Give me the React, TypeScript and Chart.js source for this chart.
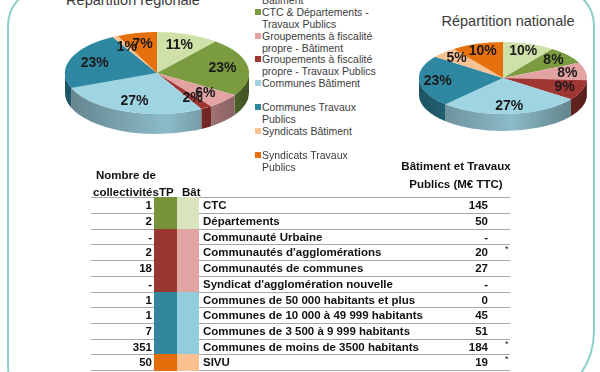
import React, { useEffect, useRef } from "react";
import { Chart, registerables } from "chart.js";

Chart.register(...registerables);

// ---------- data ----------
const sliceLabels = [
  "CTC & Départements - Bâtiment",
  "CTC & Départements - Travaux Publics",
  "Groupements à fiscalité propre - Bâtiment",
  "Groupements à fiscalité propre - Travaux Publics",
  "Communes Bâtiment",
  "Communes Travaux Publics",
  "Syndicats Bâtiment",
  "Syndicats Travaux Publics",
];
const regionalShares = [11, 23, 6, 2, 27, 23, 1, 7];
const nationalShares = [10, 8, 8, 9, 27, 23, 5, 10];
const sliceColors = ["#cfe1a8", "#7a9b3f", "#e3a3a2", "#a03633", "#9fd4e3", "#2f88a1", "#f9c293", "#e6700d"];

const rowNames = [
  "CTC",
  "Départements",
  "Communauté Urbaine",
  "Communautés d'agglomérations",
  "Communautés de communes",
  "Syndicat d'agglomération nouvelle",
  "Communes de 50 000 habitants et plus",
  "Communes de 10 000 à 49 999 habitants",
  "Communes de 3 500 à 9 999 habitants",
  "Communes de moins de 3500 habitants",
  "SIVU",
];
const rowCounts = ["1", "2", "-", "2", "18", "-", "1", "1", "7", "351", "50"];
const rowAmounts = ["145", "50", "-", "20", "27", "-", "0", "45", "51", "184", "19"];
const rowFlags = ["", "", "", "*", "", "", "", "", "", "*", "*"];
const rowGroups = [0, 0, 1, 1, 1, 1, 2, 2, 2, 2, 3];
const groupTPColors = ["#77933c", "#9b3733", "#31869d", "#e46c0a"];
const groupBatColors = ["#d7e4bd", "#e2a4a3", "#93cddd", "#fac08f"];

const FONT = "'Liberation Sans', Arial, sans-serif";

function shade(hex: string, f: number) {
  const n = parseInt(hex.slice(1), 16);
  const r = Math.round(((n >> 16) & 255) * f);
  const g = Math.round(((n >> 8) & 255) * f);
  const b = Math.round((n & 255) * f);
  return `rgb(${r},${g},${b})`;
}

function pie3d(ry: number, depth: number, labelFactor: number) {
  return {
    id: "pie3d",
    beforeDatasetsDraw(chart: any) {
      const arcs = chart.getDatasetMeta(0).data;
      if (!arcs.length) return;
      const cx = arcs[0].x, cy = arcs[0].y, rx = arcs[0].outerRadius;
      const ctx = chart.ctx as CanvasRenderingContext2D;
      arcs.forEach((arc: any, i: number) => {
        const a1 = Math.max(arc.startAngle, 0);
        const a2 = Math.min(arc.endAngle, Math.PI);
        if (a2 <= a1) return;
        const color = sliceColors[i];
        const grad = ctx.createLinearGradient(cx - rx, 0, cx + rx, 0);
        grad.addColorStop(0, shade(color, 0.62));
        grad.addColorStop(0.55, shade(color, 0.88));
        grad.addColorStop(1, shade(color, 0.55));
        ctx.beginPath();
        ctx.ellipse(cx, cy, rx, ry, 0, a1, a2);
        ctx.lineTo(cx + rx * Math.cos(a2), cy + ry * Math.sin(a2) + depth);
        ctx.ellipse(cx, cy + depth, rx, ry, 0, a2, a1, true);
        ctx.closePath();
        ctx.fillStyle = grad;
        ctx.fill();
      });
      ctx.save();
      ctx.translate(cx, cy);
      ctx.scale(1, ry / rx);
      ctx.translate(-cx, -cy);
    },
    afterDatasetsDraw(chart: any) {
      const ctx = chart.ctx as CanvasRenderingContext2D;
      ctx.restore();
      const arcs = chart.getDatasetMeta(0).data;
      const values = chart.data.datasets[0].data;
      ctx.save();
      ctx.font = `bold 14px ${FONT}`;
      ctx.fillStyle = "#1a1a1a";
      ctx.textAlign = "center";
      ctx.textBaseline = "middle";
      arcs.forEach((arc: any, i: number) => {
        const mid = (arc.startAngle + arc.endAngle) / 2;
        const x = arc.x + arc.outerRadius * labelFactor * Math.cos(mid);
        const y = arc.y + ry * labelFactor * Math.sin(mid);
        ctx.fillText(`${values[i]}%`, x, y);
      });
      ctx.restore();
    },
  };
}

function Pie3D(props: { shares: number[]; rx: number; ry: number; depth: number; f: number; cx: number; cy: number }) {
  const { shares, rx, ry, depth, f, cx, cy } = props;
  const ref = useRef<HTMLCanvasElement>(null);
  const size = 2 * rx + 2;
  useEffect(() => {
    const chart = new Chart(ref.current!, {
      type: "pie",
      data: {
        labels: sliceLabels,
        datasets: [{ data: shares, backgroundColor: sliceColors, borderWidth: 0, clip: false } as any],
      },
      options: {
        responsive: false,
        animation: false,
        events: [],
        layout: { padding: 1 },
        plugins: { legend: { display: false }, tooltip: { enabled: false } },
      },
      plugins: [pie3d(ry, depth, f) as any],
    });
    return () => chart.destroy();
  }, []);
  return (
    <canvas
      ref={ref}
      width={size}
      height={size}
      style={{ position: "absolute", left: cx - rx - 1, top: cy - rx - 1, width: size, height: size }}
    />
  );
}

export default function App() {
  const rowTop = (i: number) => Math.round(197.3 + 15.7 * i);
  const bold = { fontFamily: FONT, fontWeight: 700, fontSize: 11.5, color: "#111" } as const;
  return (
    <div style={{ position: "absolute", left: 0, top: 0, width: 600, height: 372, overflow: "hidden", background: "#fff" }}>
      {/* frame */}
      <div
        style={{
          position: "absolute",
          left: 7,
          top: -14,
          width: 588,
          height: 420,
          border: "2px solid #8ccfca",
          borderRadius: "40px 40px 75px 40px",
          boxSizing: "border-box",
        }}
      />
      {/* titles */}
      <div style={{ position: "absolute", left: 33, width: 200, top: -8, textAlign: "center", fontFamily: FONT, fontSize: 14.5, lineHeight: "17px", color: "#3a3a3a" }}>
        Répartition régionale
      </div>
      <div style={{ position: "absolute", left: 408, width: 200, top: 13, textAlign: "center", fontFamily: FONT, fontSize: 14.5, lineHeight: "17px", color: "#3a3a3a" }}>
        Répartition nationale
      </div>

      <Pie3D shares={regionalShares} rx={92} ry={41} depth={20} f={0.72} cx={157} cy={73} />
      <Pie3D shares={nationalShares} rx={84} ry={36} depth={17} f={0.78} cx={503} cy={78} />

      {/* legend */}
      {sliceLabels.map((lab, i) => (
        <div key={lab} style={{ position: "absolute", left: 255, top: -18 + 23.8 * i, width: 125, height: 24 }}>
          <div style={{ position: "absolute", left: 0, top: 3, width: 6, height: 6, background: sliceColors[i] }} />
          <div style={{ position: "absolute", left: 7, top: 0, width: 118, fontFamily: FONT, fontSize: 10.5, lineHeight: "12px", color: "#3c3c3c" }}>
            {lab}
          </div>
        </div>
      ))}

      {/* table headers */}
      <div style={{ ...bold, position: "absolute", left: 76, width: 100, top: 167, lineHeight: "17px", textAlign: "center" }}>Nombre de</div>
      <div style={{ ...bold, position: "absolute", left: 93, top: 184, lineHeight: "17px" }}>collectivités</div>
      <div style={{ ...bold, position: "absolute", left: 159, top: 184, lineHeight: "17px" }}>TP</div>
      <div style={{ ...bold, position: "absolute", left: 182, top: 184, lineHeight: "17px" }}>Bât</div>
      <div style={{ ...bold, position: "absolute", left: 386, width: 140, top: 158, lineHeight: "17px", textAlign: "center" }}>Bâtiment et Travaux</div>
      <div style={{ ...bold, position: "absolute", left: 386, width: 140, top: 176, lineHeight: "17px", textAlign: "center" }}>Publics (M€ TTC)</div>

      {/* table rows */}
      {rowNames.map((name, i) => {
        const t = rowTop(i);
        const b = rowTop(i + 1);
        return (
          <React.Fragment key={name}>
            {i === 0 && <div style={{ position: "absolute", left: 91, width: 419, top: t, height: 1, background: "#a8a8a8" }} />}
            <div style={{ position: "absolute", left: 91, width: 419, top: b, height: 1, background: "#a8a8a8" }} />
            <div style={{ position: "absolute", left: 154, width: 23, top: t, height: b - t + 1, background: groupTPColors[rowGroups[i]] }} />
            <div style={{ position: "absolute", left: 177, width: 22, top: t, height: b - t + 1, background: groupBatColors[rowGroups[i]] }} />
            <div style={{ ...bold, position: "absolute", left: 92, width: 60, top: t, height: b - t, lineHeight: `${b - t + 1}px`, textAlign: "right" }}>{rowCounts[i]}</div>
            <div style={{ ...bold, position: "absolute", left: 203, top: t, height: b - t, lineHeight: `${b - t + 1}px`, whiteSpace: "nowrap" }}>{name}</div>
            <div style={{ ...bold, position: "absolute", left: 428, width: 60, top: t, height: b - t, lineHeight: `${b - t + 1}px`, textAlign: "right" }}>{rowAmounts[i]}</div>
            <div style={{ ...bold, fontSize: 9, fontWeight: 400, position: "absolute", left: 505, top: t - 3, height: b - t, lineHeight: `${b - t + 1}px` }}>{rowFlags[i]}</div>
          </React.Fragment>
        );
      })}
    </div>
  );
}
